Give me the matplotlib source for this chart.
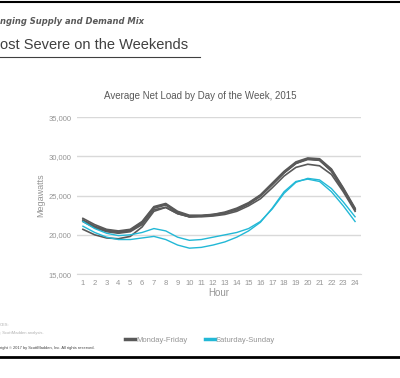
import matplotlib.pyplot as plt
from matplotlib.lines import Line2D

plt.rcParams['font.family'] = ['Liberation Sans', 'DejaVu Sans']

hours = list(range(1, 25))
hour_labels = [str(h) for h in hours]

# weekday net load (MW)
monday = [20700, 20000, 19600, 19500, 19800, 21000, 23000, 23500, 22700, 22300, 22400, 22500,
          22800, 23200, 23900, 24900, 26400, 27900, 29100, 29700, 29500, 28100, 25700, 23200]
tuesday = [22100, 21300, 20700, 20500, 20700, 21700, 23600, 24000, 23000, 22500, 22500, 22600,
           22900, 23400, 24100, 25100, 26600, 28100, 29300, 29800, 29700, 28400, 26000, 23400]
wednesday = [21900, 21100, 20600, 20400, 20600, 21600, 23500, 23900, 22900, 22400, 22400, 22600,
             22800, 23300, 24000, 25000, 26500, 28000, 29200, 29700, 29600, 28300, 25900, 23300]
thursday = [21800, 21000, 20500, 20300, 20500, 21500, 23400, 23800, 22800, 22300, 22400, 22500,
            22800, 23200, 24000, 25000, 26400, 27900, 29100, 29600, 29500, 28200, 25800, 23200]
friday = [21700, 20900, 20400, 20200, 20400, 21300, 23200, 23500, 22700, 22300, 22300, 22400,
          22600, 23000, 23700, 24600, 26000, 27500, 28600, 29000, 28800, 27700, 25500, 23000]

# weekend net load (MW)
saturday = [21700, 20800, 20200, 19900, 20000, 20300, 20800, 20500, 19700, 19300, 19400, 19700,
            20000, 20300, 20800, 21700, 23300, 25300, 26700, 27200, 27000, 25900, 24200, 22300]
sunday = [21100, 20300, 19700, 19400, 19400, 19600, 19800, 19400, 18700, 18300, 18400, 18700,
          19100, 19700, 20500, 21600, 23400, 25500, 26800, 27100, 26800, 25500, 23700, 21700]

weekdays = [monday, tuesday, wednesday, thursday, friday]
weekends = [saturday, sunday]

gray = '#595959'
cyan = '#22b8d6'
label_gray = '#959595'

fig = plt.figure(figsize=(4, 3.78), dpi=100)
ax = fig.add_axes([0.1925, 0.275, 0.71, 0.415])

for d in weekdays:
    ax.plot(hours, d, color=gray, lw=1.2, solid_joinstyle='round')
for d in weekends:
    ax.plot(hours, d, color=cyan, lw=1.0, solid_joinstyle='round')

ax.set_xlim(0.5, 24.5)
ax.set_ylim(15000, 35000)
ax.set_yticks([15000, 20000, 25000, 30000, 35000])
ax.set_yticklabels(['15,000', '20,000', '25,000', '30,000', '35,000'])
ax.set_xticks(hours)
ax.set_xticklabels(hour_labels)
ax.grid(axis='y', color='#d9d9d9', lw=1)
ax.set_axisbelow(True)
for s in ax.spines.values():
    s.set_visible(False)
ax.spines['bottom'].set_visible(True)
ax.spines['bottom'].set_color('#d9d9d9')
ax.tick_params(axis='y', length=0, labelsize=5.5, labelcolor=label_gray, pad=4)
ax.tick_params(axis='x', length=0, labelsize=5.5, labelcolor=label_gray, pad=4)
ax.set_xlabel('Hour', fontsize=7, color=label_gray, labelpad=1)
ax.set_ylabel('Megawatts', fontsize=6.5, color=label_gray, labelpad=2)

fig.text(0.5, 0.745, 'Average Net Load by Day of the Week, 2015', fontsize=7, color='#595959',
         ha='center', va='center')

handles = [Line2D([], [], color=gray, lw=2.5), Line2D([], [], color=cyan, lw=2.5)]
fig.legend(handles, ['Monday-Friday', 'Saturday-Sunday'], loc='center', bbox_to_anchor=(0.5, 0.1), ncol=2,
           frameon=False, fontsize=5.5, labelcolor=label_gray, handlelength=1.3, handletextpad=0.1,
           columnspacing=2.3)

# slide decorations
fig.add_artist(Line2D([0, 1], [0.995, 0.995], color='black', lw=1.5))
fig.text(0.0, 0.942, 'nging Supply and Demand Mix', fontsize=6, style='italic', weight='bold',
         color='#595959', va='center', family='Liberation Sans Narrow')
fig.text(0.0, 0.88, 'ost Severe on the Weekends', fontsize=10.5, color='#404040', va='center')
fig.add_artist(Line2D([0, 0.5], [0.849, 0.849], color='#404040', lw=0.8))
fig.text(0.0, 0.139, 'CES:', fontsize=3, color='#b0b0b0', va='center')
fig.text(0.0, 0.118, '; ScottMadden analysis.', fontsize=3, color='#b0b0b0', va='center')
fig.text(0.0, 0.08, 'right \u00a9 2017 by ScottMadden, Inc. All rights reserved.', fontsize=2.9,
         color='#404040', va='center')
fig.add_artist(Line2D([0, 1], [0.056, 0.056], color='black', lw=2))

fig.savefig('out.png', dpi=100)
